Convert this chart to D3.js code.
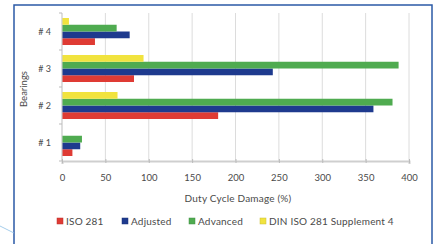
<!DOCTYPE html>
<html><head><meta charset="utf-8">
<script src="https://cdn.jsdelivr.net/npm/d3@7"></script>
<style>html,body{margin:0;padding:0;background:#fff;}svg{display:block;}</style>
</head><body><svg id="c" width="441" height="244"></svg>
<script>
const categories = ["# 4", "# 3", "# 2", "# 1"];
const seriesNames = ["ISO 281", "Adjusted", "Advanced", "DIN ISO 281 Supplement 4"];
const iso281 =   [38, 83, 180, 12];
const adjusted = [78, 243, 359, 21];
const advanced = [63, 388, 381, 23];
const din281 =   [8, 94, 64, 0];
const xTicks = [0, 50, 100, 150, 200, 250, 300, 350, 400];
const colors = ["#df3b34", "#1e3a8e", "#4fab50", "#f1e33e"];

const series = [iso281, adjusted, advanced, din281];
const svg = d3.select("#c");
const font = "Lato, 'Open Sans', sans-serif";
const txt = "#4a4a4a";

// frame
svg.append("rect").attr("x",14).attr("y",5).attr("width",418).attr("height",260)
  .attr("fill","none").attr("stroke","#2b5aa6").attr("stroke-width",1.5);
svg.append("line").attr("x1",0).attr("y1",226).attr("x2",14).attr("y2",233)
  .attr("stroke","#8ec0e6").attr("stroke-width",0.8);

const x = d3.scaleLinear().domain([0,400]).range([62,409]);
const y0 = d3.scaleBand().domain(categories).range([13,161]).paddingInner(0.27).paddingOuter(0.135);
const y1 = d3.scaleBand().domain([3,2,1,0]).range([0,y0.bandwidth()]);

// gridlines
svg.append("g").selectAll("line").data(xTicks).join("line")
  .attr("x1",d=>x(d)).attr("x2",d=>x(d)).attr("y1",13).attr("y2",161)
  .attr("stroke","#dcdcdc").attr("stroke-width",1);

// bars
categories.forEach((c,ci)=>{
  series.forEach((s,si)=>{
    svg.append("rect").attr("x",x(0)).attr("y",y0(c)+y1(si))
      .attr("width",x(s[ci])-x(0)).attr("height",y1.bandwidth())
      .attr("fill",colors[si]);
  });
});

// y axis line & ticks
svg.append("line").attr("x1",62).attr("x2",62).attr("y1",13).attr("y2",161).attr("stroke","#cfcfcf").attr("stroke-width",1);
const yb = [13].concat(categories.map(c=>y0(c)-y0.step()*0.135+y0.step()));
svg.append("g").selectAll("line").data(yb).join("line")
  .attr("x1",59).attr("x2",62).attr("y1",d=>d).attr("y2",d=>d).attr("stroke","#bbb");

// x axis
const xAxis = d3.axisBottom(x).tickValues(xTicks).tickSize(3).tickPadding(10);
const gx = svg.append("g").attr("transform","translate(0,161)").call(xAxis);
gx.select(".domain").attr("stroke","#cfcfcf").attr("stroke-width",2);
gx.selectAll(".tick line").attr("stroke","#bbb").attr("y1",-2).attr("y2",2);
gx.selectAll("text").attr("fill",txt).attr("font-family",font).attr("font-size",9.5);

// category labels
svg.append("g").selectAll("text").data(categories).join("text")
  .attr("x",51).attr("y",c=>y0(c)+y0.bandwidth()/2+3)
  .attr("text-anchor","end").attr("fill",txt).attr("font-family",font).attr("font-size",9)
  .text(c=>c);

// axis titles
svg.append("text").attr("transform","translate(27,89) rotate(-90)")
  .attr("text-anchor","middle").attr("fill",txt).attr("font-family",font).attr("font-size",9.5)
  .text("Bearings");
svg.append("text").attr("x",238).attr("y",202).attr("text-anchor","middle")
  .attr("fill",txt).attr("font-family",font).attr("font-size",10).attr("letter-spacing",0.2)
  .text("Duty Cycle Damage (%)");

// legend
const legX = [57, 122, 189, 260];
const lg = svg.append("g").selectAll("g").data(seriesNames).join("g")
  .attr("transform",(d,i)=>`translate(${legX[i]},218)`);
lg.append("rect").attr("width",6).attr("height",6).attr("fill",(d,i)=>colors[i])
  .attr("stroke",(d,i)=>d3.color(colors[i]).darker(0.5)).attr("stroke-width",0.5);
lg.append("text").attr("x",9).attr("y",6.5).attr("fill",txt).attr("font-family",font)
  .attr("font-size",10).attr("letter-spacing",0.2).text(d=>d);
</script></body></html>
